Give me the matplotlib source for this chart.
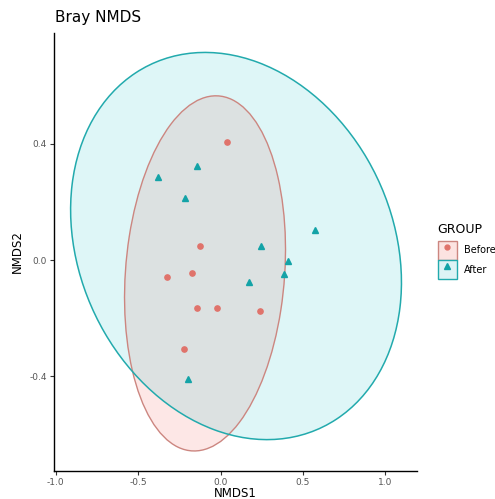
import numpy as np
import matplotlib
matplotlib.use("Agg")
import matplotlib.pyplot as plt
from matplotlib.patches import Ellipse, Patch
from matplotlib.lines import Line2D
from matplotlib.legend_handler import HandlerTuple

# NMDS scores
before_x = [0.037, -0.124, -0.175, -0.326, -0.140, -0.021, 0.241, -0.219]
before_y = [0.405, 0.049, -0.046, -0.060, -0.166, -0.164, -0.176, -0.307]
after_x = [-0.377, -0.144, -0.217, 0.573, 0.243, 0.407, 0.385, 0.175, -0.199]
after_y = [0.284, 0.323, 0.213, 0.103, 0.049, -0.003, -0.048, -0.077, -0.409]

# 95% ellipses: centre, sd along each axis, covariance
before_center = (-0.094, -0.046)
before_sd = (0.488, 0.610)
before_cov = 0.040
after_center = (0.094, 0.048)
after_sd = (1.003, 0.665)
after_cov = -0.125

groups = ["Before", "After"]
x_ticks = [-1.0, -0.5, 0.0, 0.5, 1.0]
y_ticks = [-0.4, 0.0, 0.4]

red_line = "#CC8680"
red_pt = "#E0736B"
cyan_line = "#22AAAD"
cyan_pt = "#13A3A7"


def make_ellipse(center, sd, cov, **kw):
    m = np.array([[sd[0] ** 2, cov], [cov, sd[1] ** 2]])
    vals, vecs = np.linalg.eigh(m)
    ang = np.degrees(np.arctan2(vecs[1, 1], vecs[0, 1]))
    return Ellipse(center, 2 * np.sqrt(vals[1]), 2 * np.sqrt(vals[0]), angle=ang, **kw)


fig = plt.figure(figsize=(4.95, 4.99), dpi=100)
ax = fig.add_axes([0.109, 0.056, 0.733, 0.878])

ax.add_patch(make_ellipse(before_center, before_sd, before_cov,
                          facecolor="#F8766D", alpha=0.17, edgecolor="none"))
ax.add_patch(make_ellipse(after_center, after_sd, after_cov,
                          facecolor="#00BFC4", alpha=0.13, edgecolor="none"))
ax.add_patch(make_ellipse(before_center, before_sd, before_cov,
                          facecolor="none", edgecolor=red_line, lw=1.0))
ax.add_patch(make_ellipse(after_center, after_sd, after_cov,
                          facecolor="none", edgecolor=cyan_line, lw=1.1))

ax.plot(before_x, before_y, "o", color=red_pt, ms=3.8, ls="none")
ax.plot(after_x, after_y, "^", color=cyan_pt, ms=4.5, ls="none")

ax.set_xlim(-1.01, 1.19)
ax.set_ylim(-0.725, 0.78)
ax.set_xticks(x_ticks)
ax.set_xticklabels([f"{t:.1f}" for t in x_ticks])
ax.set_yticks(y_ticks)
ax.set_yticklabels([f"{t:.1f}" for t in y_ticks])
ax.tick_params(labelsize=6.5, labelcolor="#555555", color="#333333", length=3, width=0.8, pad=2)
for s in ["top", "right"]:
    ax.spines[s].set_visible(False)
for s in ["left", "bottom"]:
    ax.spines[s].set_linewidth(1.0)

ax.set_xlabel("NMDS1", fontsize=8.5, labelpad=0)
ax.set_ylabel("NMDS2", fontsize=8.5, labelpad=4)
fig.text(0.111, 0.965, "Bray NMDS", fontsize=11, va="center", ha="left")

# legend: title placed by hand so the gap above the keys matches
fig.text(0.884, 0.541, "GROUP", fontsize=9, va="center", ha="left")
handles = [
    (Patch(facecolor="#FCE3E1", edgecolor=red_line, lw=1.0),
     Line2D([], [], marker="o", color=red_pt, ms=3.5, ls="none")),
    (Patch(facecolor="#DDF3F5", edgecolor=cyan_line, lw=1.0),
     Line2D([], [], marker="^", color=cyan_pt, ms=4, ls="none")),
]
leg = fig.legend(handles, groups, handler_map={tuple: HandlerTuple(ndivide=1)},
                 loc="upper left", bbox_to_anchor=(0.884, 0.518),
                 frameon=False, fontsize=7,
                 handlelength=2.0, handleheight=2.7, handletextpad=0.7,
                 labelspacing=0.0, borderpad=0, borderaxespad=0)

fig.savefig("out.png", dpi=100)
